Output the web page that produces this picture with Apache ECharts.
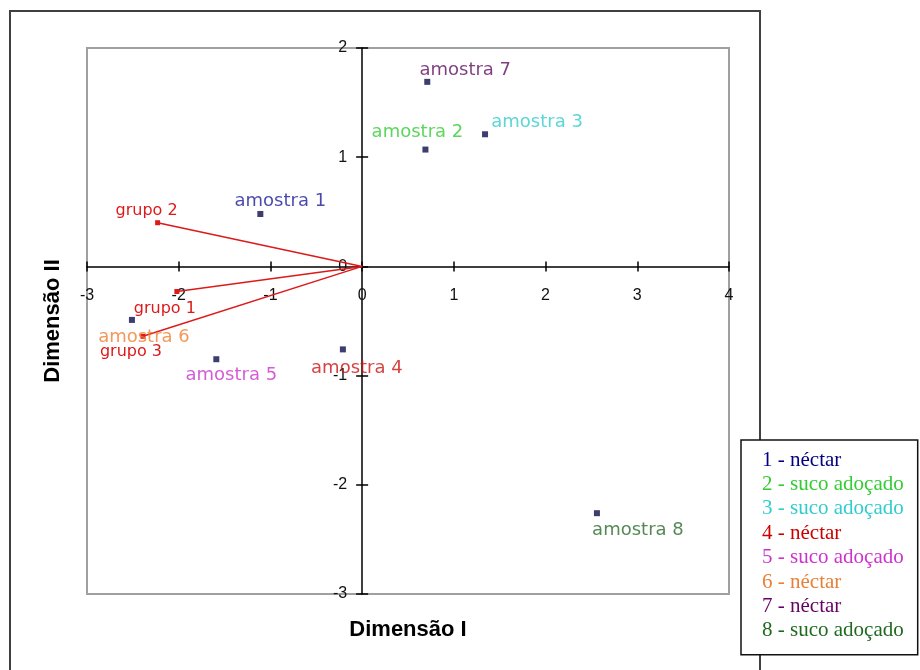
<!DOCTYPE html>
<html><head><meta charset="utf-8">
<script src="https://cdn.jsdelivr.net/npm/echarts@6/dist/echarts.min.js"></script>
<style>html,body{margin:0;padding:0;background:#fff}#c{width:920px;height:670px}</style>
</head><body><div id="c"></div>
<script>
// ---- data ----
const sampleLabels = ['amostra 1','amostra 2','amostra 3','amostra 4','amostra 5','amostra 6','amostra 7','amostra 8'];
const sampleX = [-1.11, 0.69, 1.34, -0.21, -1.59, -2.51, 0.71, 2.56];
const sampleY = [0.48, 1.07, 1.21, -0.76, -0.85, -0.49, 1.69, -2.26];
const legendLabels = ['1 - néctar','2 - suco adoçado','3 - suco adoçado','4 - néctar','5 - suco adoçado','6 - néctar','7 - néctar','8 - suco adoçado'];
const groupLabels = ['grupo 1','grupo 2','grupo 3'];
const groupX = [-2.02, -2.23, -2.39];
const groupY = [-0.23, 0.40, -0.64];
const xRange = [-3, 4];
const yRange = [-3, 2];
const xTitle = 'Dimensão I';
const yTitle = 'Dimensão II';

// ---- styles ----
const sampleColors = ['#1a1a99','#33cc33','#33cccc','#cc1111','#cc33cc','#f08030','#5e0e5e','#2a6a2a'];
const legendColors = ['#000080','#33cc33','#33cccc','#cc0000','#cc33cc','#e8803a','#660066','#1f6a1f'];
const sampleOffsets = [[20,-13],[-8,-17],[52,-12],[14,19],[15,16],[12,17],[38,-12],[41,17]];
const groupOffsets = [[-12,17],[-11,-12],[-12,16]];
const groupColor = '#dd1a1a';

const chart = echarts.init(document.getElementById('c'), null, {renderer:'canvas'});

const axisBase = (min, max) => ({
  type: 'value', min: min, max: max, interval: 1,
  splitLine: {show: false},
  axisLine: {onZero: false, lineStyle: {color: '#000', width: 1.5}},
});

function buildAxes(xOff, yOff) {
  const xAxes = [
    Object.assign(axisBase(xRange[0], xRange[1]), {
      position: 'bottom', offset: xOff,
      axisTick: {show: true, length: 5, lineStyle: {color: '#000', width: 1.5}},
      axisLabel: {margin: 21, fontSize: 16, color: '#111', fontFamily: 'Liberation Sans'}
    }),
    Object.assign(axisBase(xRange[0], xRange[1]), {
      position: 'bottom', offset: xOff,
      axisLine: {show: false, onZero: false},
      axisTick: {show: true, inside: true, length: 5, lineStyle: {color: '#000', width: 1.5}},
      axisLabel: {show: false}
    })
  ];
  const yAxes = [
    Object.assign(axisBase(yRange[0], yRange[1]), {
      position: 'left', offset: yOff,
      axisTick: {show: true, length: 6, lineStyle: {color: '#000', width: 1.5}},
      axisLabel: {margin: 15, fontSize: 16, color: '#111', fontFamily: 'Liberation Sans'}
    }),
    Object.assign(axisBase(yRange[0], yRange[1]), {
      position: 'left', offset: yOff,
      axisLine: {show: false, onZero: false},
      axisTick: {show: true, inside: true, length: 6, lineStyle: {color: '#000', width: 1.5}},
      axisLabel: {show: false}
    })
  ];
  return {xAxis: xAxes, yAxis: yAxes};
}

const series = [];
groupLabels.forEach((g, i) => {
  series.push({
    name: g, type: 'line', xAxisIndex: 0, yAxisIndex: 0,
    lineStyle: {color: groupColor, width: 1.5},
    itemStyle: {color: groupColor},
    symbol: 'rect', symbolSize: 5, showSymbol: true,
    animation: false, z: 3,
    data: [
      {value: [0, 0], symbol: 'none', label: {show: false}},
      {value: [groupX[i], groupY[i]]}
    ],
    label: {
      show: true, position: 'inside', offset: groupOffsets[i],
      formatter: g, color: groupColor, fontSize: 16,
      fontFamily: 'DejaVu Sans', align: 'center', verticalAlign: 'middle'
    }
  });
});
sampleLabels.forEach((s, i) => {
  series.push({
    name: legendLabels[i], type: 'scatter', xAxisIndex: 0, yAxisIndex: 0,
    symbol: 'rect', symbolSize: 6,
    itemStyle: {color: '#0c0c4c'},
    animation: false, z: 4,
    data: [[sampleX[i], sampleY[i]]],
    label: {
      show: true, position: 'inside', offset: sampleOffsets[i],
      formatter: s, color: sampleColors[i], fontSize: 18,
      fontFamily: 'DejaVu Sans', align: 'center', verticalAlign: 'middle'
    }
  });
});

const axes0 = buildAxes(0, 0);
const option = {
  backgroundColor: '#fff',
  animation: false,
  grid: {left: 87, right: 191, top: 48, bottom: 76, show: true,
         borderColor: '#a0a0a0', borderWidth: 2, backgroundColor: '#fff', containLabel: false},
  xAxis: axes0.xAxis,
  yAxis: axes0.yAxis,
  legend: {
    show: true, orient: 'vertical', left: 741, top: 440, z: 10,
    icon: 'none', itemWidth: 0, itemHeight: 14, itemGap: 0.4,
    padding: [8, 14, 12, 16],
    backgroundColor: '#fff', borderColor: '#111', borderWidth: 1.5, borderRadius: 0,
    selectedMode: false,
    textStyle: {fontFamily: 'Liberation Serif', fontSize: 21, lineHeight: 24},
    data: legendLabels.map((l, i) => ({name: l, textStyle: {color: legendColors[i]}}))
  },
  graphic: [
    {type: 'rect', z: -10, silent: true,
     shape: {x: 10, y: 11, width: 750, height: 700},
     style: {fill: null, stroke: '#404040', lineWidth: 2}},
    {type: 'text', x: 408, y: 630, silent: true,
     style: {text: xTitle, font: 'bold 22px "Liberation Sans"', fill: '#000',
             textAlign: 'center', textVerticalAlign: 'middle'}},
    {type: 'text', x: 53, y: 321, rotation: Math.PI / 2, silent: true,
     style: {text: yTitle, font: 'bold 22px "Liberation Sans"', fill: '#000',
             textAlign: 'center', textVerticalAlign: 'middle'}}
  ],
  series: series
};
chart.setOption(option);

// Move the axes so they cross at the data origin (positions from the library's own scales)
const origin = chart.convertToPixel({gridIndex: 0}, [0, 0]);
const corner = chart.convertToPixel({gridIndex: 0}, [xRange[0], yRange[0]]);
const axes1 = buildAxes(-(corner[1] - origin[1]), -(origin[0] - corner[0]));
chart.setOption({xAxis: axes1.xAxis, yAxis: axes1.yAxis});
</script>
</body></html>
